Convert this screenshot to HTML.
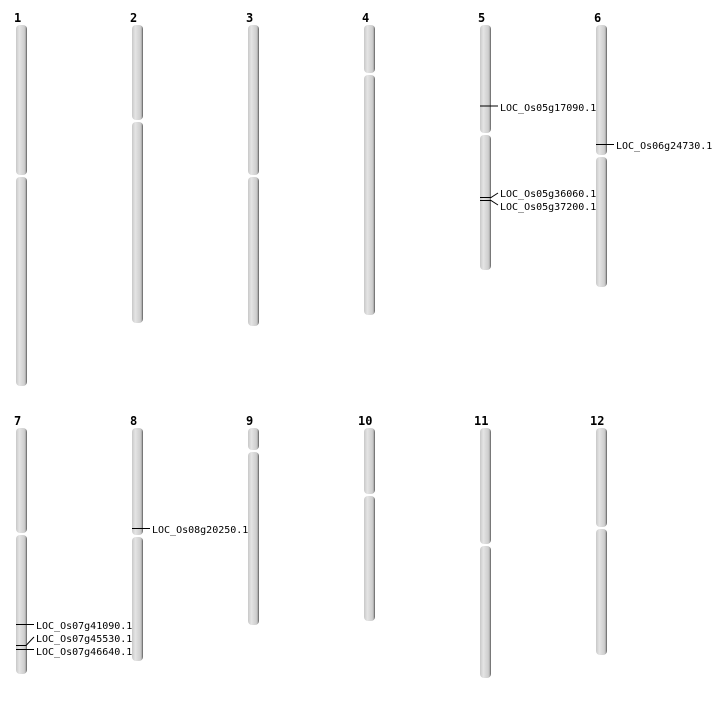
<!DOCTYPE html>
<html><head><meta charset="utf-8"><style>
html,body{margin:0;padding:0;background:#fff;}
svg text{font-family:"DejaVu Sans Mono","Liberation Mono",monospace;}
</style></head><body>
<svg width="712" height="700" xmlns="http://www.w3.org/2000/svg">
<defs>
<linearGradient id="g" x1="0" x2="1" y1="0" y2="0">
<stop offset="0" stop-color="#c8c8c8"/>
<stop offset="0.3" stop-color="#e4e4e4"/>
<stop offset="0.75" stop-color="#cfcfcf"/>
<stop offset="0.88" stop-color="#b0b0b0"/>
<stop offset="1" stop-color="#555"/>
</linearGradient>
</defs>
<g fill="url(#g)">
<rect x="16" y="25" width="11" height="150" rx="4"/><rect x="16" y="177" width="11" height="209" rx="4"/>
<rect x="132" y="25" width="11" height="95" rx="4"/><rect x="132" y="122" width="11" height="201" rx="4"/>
<rect x="248" y="25" width="11" height="150" rx="4"/><rect x="248" y="177" width="11" height="149" rx="4"/>
<rect x="364" y="25" width="11" height="48" rx="4"/><rect x="364" y="75" width="11" height="240" rx="4"/>
<rect x="480" y="25" width="11" height="108" rx="4"/><rect x="480" y="135" width="11" height="135" rx="4"/>
<rect x="596" y="25" width="11" height="130" rx="4"/><rect x="596" y="157" width="11" height="130" rx="4"/>
<rect x="16" y="428" width="11" height="105" rx="4"/><rect x="16" y="535" width="11" height="139" rx="4"/>
<rect x="132" y="428" width="11" height="107" rx="4"/><rect x="132" y="537" width="11" height="124" rx="4"/>
<rect x="248" y="428" width="11" height="22" rx="4"/><rect x="248" y="452" width="11" height="173" rx="4"/>
<rect x="364" y="428" width="11" height="66" rx="4"/><rect x="364" y="496" width="11" height="125" rx="4"/>
<rect x="480" y="428" width="11" height="116" rx="4"/><rect x="480" y="546" width="11" height="132" rx="4"/>
<rect x="596" y="428" width="11" height="99" rx="4"/><rect x="596" y="529" width="11" height="126" rx="4"/>
</g>
<g font-size="12" font-weight="bold" fill="#000">
<text x="14" y="22">1</text><text x="130" y="22">2</text><text x="246" y="22">3</text>
<text x="362" y="22">4</text><text x="478" y="22">5</text><text x="594" y="22">6</text>
<text x="14" y="425">7</text><text x="130" y="425">8</text><text x="246" y="425">9</text>
<text x="358" y="425">10</text><text x="474" y="425">11</text><text x="590" y="425">12</text>
</g>
<g stroke="#000" stroke-width="1" fill="none">
<path d="M480 106H498"/>
<path d="M480 197.5H491L498 193"/>
<path d="M480 200.5H491L498 205"/>
<path d="M596 144.5H614"/>
<path d="M132 528.5H150"/>
<path d="M16 624.5H34"/>
<path d="M16 645.5H26L34 637"/>
<path d="M16 649.5H34"/>
</g>
<g font-size="10" fill="#000">
<text x="500" y="111">LOC_Os05g17090.1</text>
<text x="500" y="197">LOC_Os05g36060.1</text>
<text x="500" y="210">LOC_Os05g37200.1</text>
<text x="616" y="149">LOC_Os06g24730.1</text>
<text x="152" y="533">LOC_Os08g20250.1</text>
<text x="36" y="629">LOC_Os07g41090.1</text>
<text x="36" y="642">LOC_Os07g45530.1</text>
<text x="36" y="655">LOC_Os07g46640.1</text>
</g>
</svg>
</body></html>
